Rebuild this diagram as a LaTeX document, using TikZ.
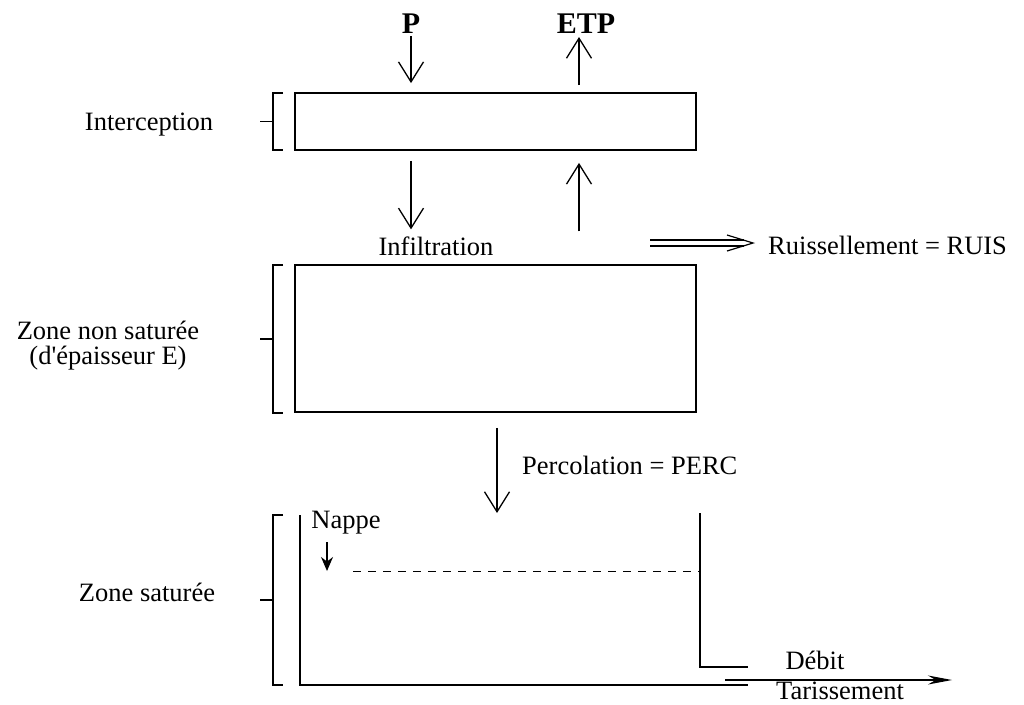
\documentclass[tikz,border=0pt]{standalone}
\usepackage{fontspec}
\setmainfont{Liberation Serif}
\usepackage{tikz}
\usetikzlibrary{
    arrows.meta,
    calc,
    positioning
}

\begin{document}
\begin{tikzpicture}[x=1pt, y=-1pt,
    every node/.style={font=\fontsize{26.5}{25}\selectfont, inner sep=0pt},
    titre/.style={font=\fontsize{30}{30}\selectfont\bfseries},
    flux/.style={line width=1.3pt, -{Straight Barb[length=20pt, width=25pt, line width=1.3pt]}},
    reservoir/.style={draw, line width=1.8pt, minimum width=401pt},
    crochet/.style={line width=1.3pt}]
\useasboundingbox (0,0) rectangle (1024,704);
% reservoirs
\node[reservoir, minimum height=57pt] (interc) at (495.5,121.5) {};
\node[reservoir, minimum height=147pt] (zns) at (495.5,338.5) {};
\coordinate (zsno) at (300,515);
\coordinate (zsne) at (700,513);
\draw[line width=1.8pt] (zsno) -- (300,685) -- (748,685)
    (zsne) -- (700,667) -- (748,667);
% crochets
\foreach \haut/\bas in {93/150, 265/413, 515/685}{
    \draw[crochet] (283,\haut) -- (273,\haut) -- (273,\bas) -- (283,\bas);
    \draw[crochet] (260,{(\haut+\bas)/2}) -- (273,{(\haut+\bas)/2});
}
\node (linterc) at (149,125) {Interception};
\node[align=center] (lzns) at (108,346) {Zone non saturée\\(d\textquotesingle épaisseur E)};
\node (lzs) at (147,592) {Zone saturée};
% entrees / sorties
\node[titre] (P) at (411,24) {P};
\node[titre] (ETP) at (586,24) {ETP};
\coordinate (evap) at (579,0);
\draw[flux] ([yshift=-2pt]P.south) -- ([yshift=9pt]interc.north -| P);
\draw[flux] ([yshift=7pt]interc.north -| evap) -- ([yshift=-3pt]ETP.south -| evap);
\node (infil) at (436,246) {Infiltration};
\draw[flux] ([yshift=-10pt]interc.south -| P) -- ([yshift=7pt]infil.north -| P);
\draw[flux] ([yshift=5pt]infil.north -| evap) -- ([yshift=-12pt]interc.south -| evap);
% ruissellement (double fleche)
\node[anchor=west] (ruis) at (768,245) {Ruissellement = RUIS};
\coordinate (ruisdep) at (650,243);
\coordinate (ruisfin) at ([xshift=-15pt]ruis.west |- ruisdep);
\draw[line width=1.2pt]
    ([yshift=3pt]ruisdep) -- ([xshift=-9pt,yshift=3pt]ruisfin)
    ([yshift=-3pt]ruisdep) -- ([xshift=-9pt,yshift=-3pt]ruisfin);
\draw[line width=1.2pt] ([xshift=-26pt,yshift=8pt]ruisfin) -- (ruisfin) -- ([xshift=-26pt,yshift=-8pt]ruisfin);
\node[anchor=west] (perc) at (522,465) {Percolation = PERC};
\coordinate (percbas) at (497,513);
\draw[flux] ([yshift=-15pt]zns.south -| percbas) -- (percbas);
% nappe
\node (nappe) at (346,523) {Nappe};
\coordinate (niveau) at (327,571);
\draw[line width=1.4pt, -{Stealth[length=14pt, width=12pt]}] (niveau |- 0,542) -- (niveau);
\draw[line width=0.8pt, dash pattern=on 8pt off 7pt] (353,571) -- (zsne |- niveau);
% debit
\node (debit) at (815,660) {Débit};
\node (tariss) at (840,691) {Tarissement};
\coordinate (debitdep) at (725,680);
\draw[line width=1.3pt, -{Stealth[length=24pt, width=9pt]}] (debitdep) -- (952,680);
\end{tikzpicture}
\end{document}
